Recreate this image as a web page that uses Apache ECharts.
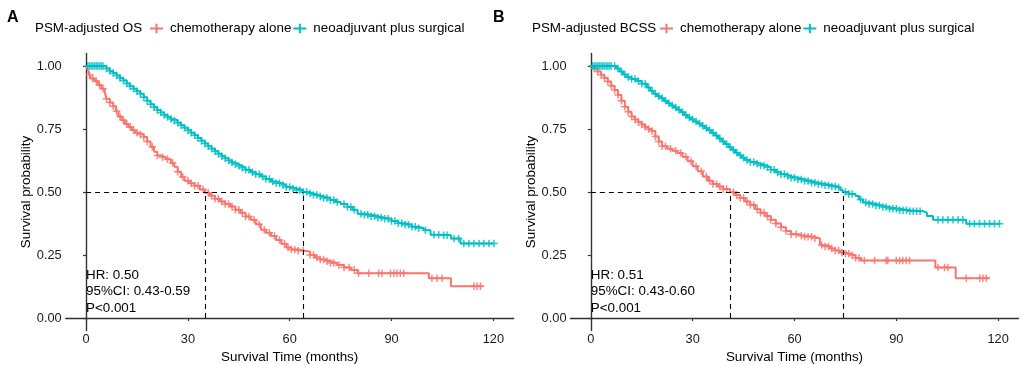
<!DOCTYPE html>
<html>
<head>
<meta charset="utf-8">
<script src="https://cdn.jsdelivr.net/npm/echarts@6/dist/echarts.min.js"></script>
<style>
  html, body { margin: 0; padding: 0; background: #fff; }
  #chart { width: 1021px; height: 365px; }
</style>
</head>
<body>
<div id="chart"></div>
<script>
// Kaplan-Meier knots [months, survival]
const osChemo = [[0,1.0],[0.5,0.985],[1,0.965],[1.5,0.95],[2.5,0.94],[3.5,0.925],[4.5,0.91],[5.5,0.895],[6,0.87],[7,0.855],[8,0.84],[8.8,0.82],[9.5,0.80],[10.5,0.785],[11.5,0.77],[12.5,0.758],[13.5,0.745],[14.5,0.735],[15.5,0.728],[17,0.718],[18,0.70],[19,0.68],[20,0.66],[21,0.645],[22,0.638],[23.5,0.63],[25,0.615],[26,0.60],[27,0.58],[28,0.56],[29,0.545],[30.5,0.535],[32,0.525],[33.5,0.51],[35,0.497],[36.5,0.485],[38,0.473],[39.5,0.462],[41,0.452],[42.5,0.442],[44,0.43],[45.5,0.418],[47,0.403],[48.5,0.39],[50,0.372],[51.5,0.35],[53,0.338],[54.5,0.325],[56,0.31],[57.5,0.295],[59,0.28],[60.5,0.272],[62.5,0.267],[64.5,0.264],[66,0.25],[67.5,0.24],[69,0.232],[70.5,0.225],[72,0.218],[74,0.21],[76,0.2],[78,0.19],[80,0.178],[101,0.158],[107.5,0.126],[117,0.126]];
const osNeo = [[0,1],[5,1],[6,0.99],[7,0.98],[8,0.972],[9,0.962],[10,0.952],[11,0.942],[12,0.931],[13,0.92],[14,0.91],[15,0.9],[16,0.89],[17,0.876],[18,0.862],[19,0.848],[20,0.836],[21,0.825],[22,0.815],[23,0.806],[24,0.798],[25,0.79],[26,0.783],[27,0.775],[28,0.765],[29,0.755],[30,0.745],[31,0.735],[32,0.725],[33,0.714],[34,0.703],[35,0.692],[36,0.682],[37,0.672],[38,0.662],[39,0.652],[40,0.642],[41,0.634],[42,0.625],[43,0.617],[44,0.61],[45,0.603],[46,0.596],[47,0.588],[48.5,0.578],[50,0.57],[51.5,0.562],[53,0.552],[54.5,0.542],[56,0.535],[57.5,0.528],[59,0.52],[60.5,0.514],[62,0.508],[64,0.5],[65.5,0.494],[67,0.488],[68.5,0.482],[70,0.476],[72,0.468],[73.5,0.46],[75,0.452],[77,0.44],[78.5,0.43],[80,0.414],[82,0.41],[84,0.404],[86,0.398],[88,0.394],[90,0.385],[92,0.376],[94,0.37],[96,0.362],[98,0.356],[99.5,0.348],[101.5,0.33],[105,0.328],[107.5,0.315],[110.3,0.296],[120.2,0.296]];
const bcssChemo = [[0,1],[1,0.99],[2,0.978],[3,0.965],[4,0.952],[5,0.938],[6,0.922],[7,0.905],[8,0.885],[9,0.862],[10,0.838],[11,0.818],[12,0.8],[13,0.788],[14,0.778],[15,0.768],[16,0.758],[17,0.75],[18,0.742],[19,0.72],[20,0.7],[21,0.682],[22.5,0.672],[24,0.664],[25.5,0.655],[27,0.64],[28.5,0.622],[30,0.602],[31.5,0.582],[33,0.562],[34.5,0.545],[36,0.532],[37.5,0.522],[39,0.512],[41,0.499],[42.5,0.488],[44,0.476],[45.5,0.462],[47,0.448],[48.5,0.432],[50,0.418],[51.5,0.405],[53,0.39],[54.5,0.375],[56,0.36],[57.5,0.345],[59,0.332],[61,0.326],[63,0.322],[66,0.316],[67.5,0.29],[69,0.284],[70.5,0.276],[72,0.268],[73.5,0.26],[75,0.255],[76.5,0.248],[78,0.238],[79.5,0.228],[101.5,0.2],[107.5,0.158],[117.5,0.158]];
const bcssNeo = [[0,1],[6.4,1],[7.5,0.99],[8.5,0.978],[9.5,0.966],[10.5,0.956],[12,0.948],[13.5,0.94],[15,0.93],[16.5,0.915],[17.5,0.902],[18.5,0.89],[19.5,0.88],[20.5,0.872],[21.5,0.862],[22.5,0.852],[23.5,0.843],[24.5,0.835],[25.5,0.826],[26.5,0.816],[27.5,0.806],[28.5,0.796],[29.5,0.788],[30.5,0.78],[31.5,0.772],[32.5,0.763],[33.5,0.754],[34.5,0.745],[35.5,0.735],[36.5,0.724],[37.5,0.712],[38.5,0.7],[39.5,0.69],[40.5,0.678],[41.5,0.668],[42.5,0.656],[43.5,0.646],[44.5,0.636],[45.5,0.627],[47,0.619],[48.5,0.612],[50,0.605],[51.5,0.598],[53,0.588],[54.5,0.578],[56,0.57],[57.5,0.563],[59,0.557],[61,0.55],[63,0.544],[65,0.537],[67,0.532],[69,0.527],[71,0.522],[72.5,0.518],[73.5,0.508],[74.2,0.5],[76,0.492],[78,0.484],[79,0.47],[80.2,0.458],[82,0.452],[84,0.446],[86,0.44],[88,0.434],[91,0.428],[94,0.424],[97.8,0.418],[99,0.405],[100.8,0.39],[110.6,0.374],[120.4,0.374]];

// censoring times (months)
const osChemoCensor = [1,2,3,4,5,6,7,8,9,10,11,12,13,14,15,16,17,18,19.5,21,22.5,24,25.5,27,28.5,30,31,32,33,34.5,36,37,38,39,40,41,42,43,44,45,46,47,48,49.5,51,52.5,54,55.5,57,58.5,59.5,60.5,61.5,62.5,64,66,67,68,69,70,71,72,73,74.5,76,77.5,79,80.3,83.3,86.2,87.2,89.7,90.7,91.6,92.6,93.6,101.9,103.4,104.9,114.3,115.2,116.2];
const osNeoCensor = [0.5,1,1.5,2,2.5,3,3.5,4,4.5,5,6,7,8,9,10,11,12,13,14,15,16,17,18,19,20,21,22,23,24,25,26,27,28,29,30,31,32,33,34,35,36,37,38,39,40,41,42,43,44,45,46,47,48,49,50,51,52,53,54,55,56,57,58,59,60,61,62,63,64,65,66,67,68,69,70,71,72,73,74,76,77,78,79,81,82,83,84,85,86,87,88,89,90,91,92,93,94,95,96,97,98,100,102.5,103.9,105.4,106.4,108.4,109.8,111.3,112.8,114.3,115.8,117.2,118.7,120.2];
const bcssChemoCensor = [1,2,3,4,5,6,7,8,9,10,11,12,13,14,15,16,17,18,19,20,21,22,23.5,25,26.5,28,29.5,31,32.5,34,35,36,37,38,39,40,42,43,44,45,46,47,48,49,50,51,52,53,54.5,56,57.5,59,60.5,62,63,64,65,66,68,69,70,71,72,73,74,75,76,77,78,79,80.6,83.6,87,87.5,90,91,91.9,92.9,93.9,102.3,104.2,105.2,110.6,114.6,115.5,116.5];
const bcssNeoCensor = [0.5,1,1.5,2,2.5,3,3.5,4,4.5,5,5.5,6,7,8,9,10,11,12,13,14,15,16,17,18,19,20,21,22,23,24,25,26,27,28,29,30,31,32,33,34,35,36,37,38,39,40,41,42,43,44,45,46,47,48,49,50,51,52,53,54,55,56,57,58,59,60,61,62,63,64,65,66,67,68,69,70,71,72,73,75,76,77,79.5,81,82,83,84,85,86,87,88,89,90,91,92,93,94,95,96,97,102.3,103.7,105.2,106.7,108.2,109.6,111.6,113,114.5,116,117.5,118.9,120.4];

// median survival (chemo, neoadjuvant)
const osMedians = [35, 64];
const bcssMedians = [41, 74.5];

const xTicks = [0, 30, 60, 90, 120];
const yTicks = [0, 0.25, 0.5, 0.75, 1];
const panelLetters = ['A', 'B'];
const legendTitles = ['PSM-adjusted OS', 'PSM-adjusted BCSS'];
const statLines = [
    ['HR: 0.50', '95%CI: 0.43-0.59', 'P<0.001'],
    ['HR: 0.51', '95%CI: 0.43-0.60', 'P<0.001']
];
const groupNames = ['chemotherapy alone', 'neoadjuvant plus surgical'];

const RED = '#F8766D';
const CYAN = '#00BFC4';
const FONT = '"Liberation Sans", Arial, sans-serif';
const PLUS = 'path://M0,4H10V6H0ZM4,0H6V10H4Z';
const LEGEND_ICON = 'path://M0,4.9H14V7.1H0ZM5.9,1H8.1V11H5.9Z';

function survAt(curve, t) {
    let s = curve[0][1];
    for (const [time, val] of curve) {
        if (time <= t) s = val;
        else break;
    }
    return s;
}

const gridLeft = [65.7, 570.5];

function buildPanel(idx, chemo, neo, chemoCensor, neoCensor, medians) {
    const axisCommon = {
        gridIndex: idx,
        type: 'value',
        axisLine: { lineStyle: { color: '#333', width: 1.4 } },
        axisTick: { length: 3, lineStyle: { color: '#333', width: 1.2 } },
        splitLine: { show: false },
        nameTextStyle: { color: '#000', fontSize: 13.4, fontFamily: FONT }
    };
    const xAxis = Object.assign({}, axisCommon, {
        min: -6, max: 126,
        name: 'Survival Time (months)',
        nameLocation: 'middle',
        nameGap: 14,
        axisTick: Object.assign({}, axisCommon.axisTick, { customValues: xTicks }),
        axisLabel: { customValues: xTicks, color: '#1a1a1a', fontSize: 12.8, fontFamily: FONT, margin: 2 }
    });
    const yAxis = Object.assign({}, axisCommon, {
        min: -0.05, max: 1.05,
        name: 'Survival probability',
        nameLocation: 'middle',
        nameGap: 32,
        axisTick: Object.assign({}, axisCommon.axisTick, { customValues: yTicks }),
        axisLabel: {
            customValues: yTicks, color: '#1a1a1a', fontSize: 12.8, fontFamily: FONT, margin: 4,
            formatter: v => v.toFixed(2)
        }
    });

    const lineSeries = (name, data, color, mark) => ({
        name: name,
        type: 'line',
        xAxisIndex: idx,
        yAxisIndex: idx,
        step: 'end',
        data: data,
        symbol: 'none',
        color: color,
        lineStyle: { color: color, width: 2 },
        silent: true,
        z: 3,
        markLine: mark
    });
    const censorSeries = (name, times, curve, color) => ({
        name: name,
        type: 'scatter',
        xAxisIndex: idx,
        yAxisIndex: idx,
        symbol: PLUS,
        symbolSize: 7.5,
        color: color,
        itemStyle: { color: color, opacity: 0.85 },
        silent: true,
        z: 4,
        data: times.map(t => [t, survAt(curve, t)])
    });

    const dashed = {
        silent: true,
        symbol: 'none',
        label: { show: false },
        lineStyle: { color: '#000', type: [5, 4], width: 1.1 },
        data: [
            [{ coord: [0, 0.5] }, { coord: [medians[1], 0.5] }],
            [{ coord: [medians[0], 0] }, { coord: [medians[0], 0.5] }],
            [{ coord: [medians[1], 0] }, { coord: [medians[1], 0.5] }]
        ]
    };

    return {
        grid: {
            left: gridLeft[idx], top: 53.4, width: 448, height: 277.2,
            outerBoundsMode: 'none'
        },
        xAxis: xAxis,
        yAxis: yAxis,
        series: [
            lineSeries(groupNames[0], chemo, RED, dashed),
            lineSeries(groupNames[1], neo, CYAN),
            censorSeries(groupNames[0], chemoCensor, chemo, RED),
            censorSeries(groupNames[1], neoCensor, neo, CYAN)
        ]
    };
}

const panels = [
    buildPanel(0, osChemo, osNeo, osChemoCensor, osNeoCensor, osMedians),
    buildPanel(1, bcssChemo, bcssNeo, bcssChemoCensor, bcssNeoCensor, bcssMedians)
];

const legendLeft = [150, 660];
const titleLeft = [35, 532];
const letterLeft = [7, 493];

const graphics = [];
[0, 1].forEach(i => {
    graphics.push({
        type: 'text', left: letterLeft[i], top: 10,
        style: { text: panelLetters[i], font: 'bold 16px ' + FONT, fill: '#000' }
    });
    graphics.push({
        type: 'text', left: titleLeft[i], top: 22,
        style: { text: legendTitles[i], font: '13.4px ' + FONT, fill: '#000' }
    });
    graphics.push({
        type: 'text', left: gridLeft[i] + 20.3, top: 267,
        style: { text: statLines[i].join('\n'), font: '13.4px ' + FONT, fill: '#000', lineHeight: 16.5 }
    });
});

const option = {
    animation: false,
    backgroundColor: '#fff',
    textStyle: { fontFamily: FONT },
    legend: [0, 1].map(i => ({
        left: legendLeft[i],
        top: 22,
        padding: 0,
        itemWidth: 13,
        itemHeight: 10,
        itemGap: 2,
        icon: LEGEND_ICON,
        selectedMode: false,
        data: groupNames,
        textStyle: { color: '#000', fontSize: 13.4, fontFamily: FONT, padding: [0, 0, 0, 2] }
    })),
    grid: panels.map(p => p.grid),
    xAxis: panels.map(p => p.xAxis),
    yAxis: panels.map(p => p.yAxis),
    series: panels[0].series.concat(panels[1].series),
    graphic: graphics
};

const chart = echarts.init(document.getElementById('chart'));
chart.setOption(option);
</script>
</body>
</html>
